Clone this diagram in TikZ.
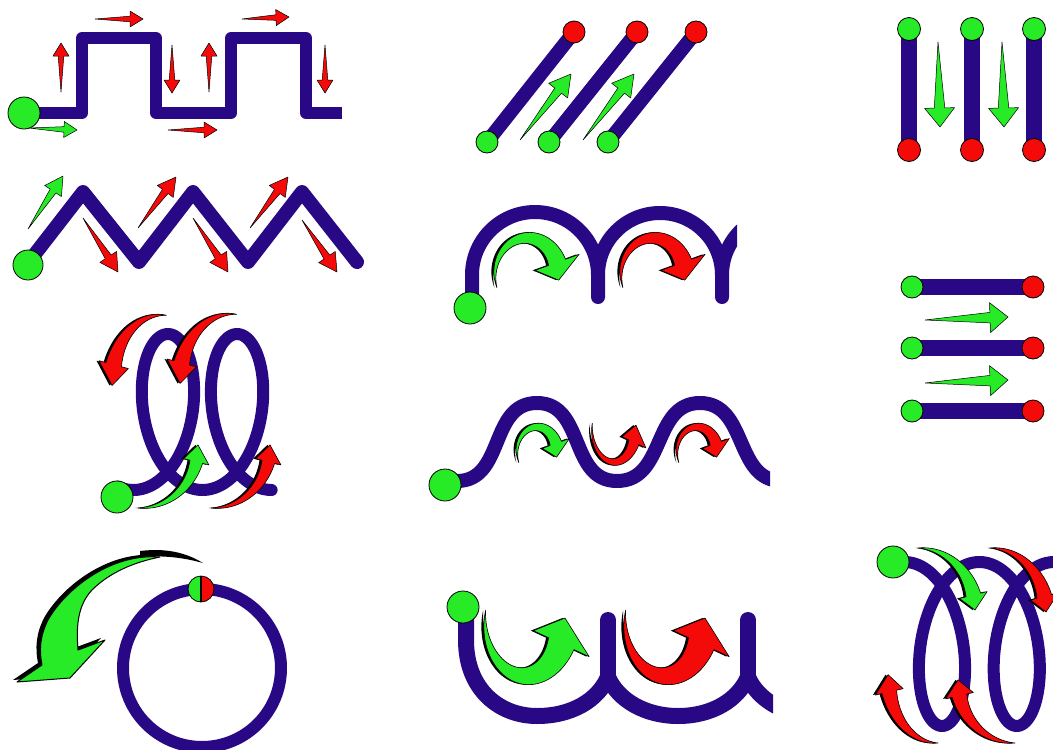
\documentclass[tikz,border=0pt]{standalone}
\usetikzlibrary{calc}
\definecolor{pathblue}{RGB}{40,8,132}
\definecolor{mygreen}{RGB}{40,235,40}
\definecolor{myred}{RGB}{245,10,10}
\def\hr{2.2}
% curved tapered arrow path: cx cy rx ry a1 a2 a3 w
\newcommand\cpath[8]{plot[domain=#5:#6,samples=40,variable=\x] ({#1+(#3+#8*(\x-#5)/(#6-#5))*cos(\x)},{#2-(#4+#8*(\x-#5)/(#6-#5))*sin(\x)}) -- ({#1+(#3+\hr*#8)*cos(#6)},{#2-(#4+\hr*#8)*sin(#6)}) -- ({#1+#3*cos(#7)},{#2-#4*sin(#7)}) -- ({#1+(#3-\hr*#8)*cos(#6)},{#2-(#4-\hr*#8)*sin(#6)}) -- plot[domain=#6:#5,samples=40,variable=\x] ({#1+(#3-#8*(\x-#5)/(#6-#5))*cos(\x)},{#2-(#4-#8*(\x-#5)/(#6-#5))*sin(\x)}) -- cycle}
\newcommand\carrow[9]{\fill[black,xshift=-2.5pt] \cpath{#2}{#3}{#4}{#5}{#6}{#7}{#8}{#9};\filldraw[fill=#1,draw=black,line width=0.6pt,line join=round] \cpath{#2}{#3}{#4}{#5}{#6}{#7}{#8}{#9};}
% straight tapered arrow: colour, tail, tip, head length, head half width
\newcommand\dart[5]{\filldraw[fill=#1,draw=black,line width=0.5pt,line join=round] (#2) -- ($(#3)!#4!(#2)!0.35*#5!90:(#2)$) -- ($(#3)!#4!(#2)!#5!90:(#2)$) -- (#3) -- ($(#3)!#4!(#2)!#5!-90:(#2)$) -- ($(#3)!#4!(#2)!0.35*#5!-90:(#2)$) -- cycle;}
\begin{document}
\begin{tikzpicture}[x=1pt,y=-1pt,
  track/.style={draw=pathblue,line cap=round,line join=round},
  gdot/.style={fill=mygreen,draw=black,line width=0.8pt},
  rdot/.style={fill=myred,draw=black,line width=0.8pt}]
\useasboundingbox (0,0) rectangle (1053,750);
\fill[white] (0,0) rectangle (1053,750);
\begin{scope}
\clip (0,0) rectangle (1053,750);
% ---------- panel 1: square wave
\draw[track,line width=12pt,line cap=butt] (24,113) -- (82,113) -- (82,38) -- (156,38) -- (156,113) -- (231,113) -- (231,38) -- (306,38) -- (306,113) -- (342,113);
\filldraw[gdot] (24,113) circle[radius=16pt];
\dart{myred}{95,19}{143,19}{13pt}{8pt}
\dart{myred}{242,19}{289,17}{13pt}{8pt}
\dart{myred}{168,130}{217,130}{13pt}{8pt}
\dart{mygreen}{29,128}{77,130}{13pt}{8pt}
\dart{myred}{61,92}{61,43}{13pt}{8pt}
\dart{myred}{209,92}{209,43}{13pt}{8pt}
\dart{myred}{172,45}{172,93}{13pt}{8pt}
\dart{myred}{325,45}{325,93}{13pt}{8pt}
% ---------- panel 2: zigzag
\draw[track,line width=14pt] (28,263) -- (83,192) -- (139,262) -- (193,192) -- (248,262) -- (302,192) -- (357,262);
\filldraw[gdot] (28,265) circle[radius=15pt];
\dart{mygreen}{28,229}{63,176}{18pt}{10pt}
\dart{myred}{138,228}{176,177}{18pt}{10pt}
\dart{myred}{250,228}{288,177}{18pt}{10pt}
\dart{myred}{83,218}{118,272}{18pt}{10pt}
\dart{myred}{193,218}{228,272}{18pt}{10pt}
\dart{myred}{302,220}{337,272}{18pt}{10pt}
% ---------- panel 3: diagonal bars
\foreach \a/\b in {487/574,549/637,608/696}{
  \draw[track,line width=14pt] (\a,142) -- (\b,32);
  \filldraw[gdot] (\a,142) circle[radius=11pt];
  \filldraw[rdot] (\b,32) circle[radius=11pt];}
\dart{mygreen}{520,140}{571,74}{21pt}{12pt}
\dart{mygreen}{583,140}{634,74}{21pt}{12pt}
% ---------- panel 4: vertical bars
\foreach \a in {909,972,1034}{
  \draw[track,line width=16pt] (\a,29) -- (\a,150);
  \filldraw[gdot] (\a,29) circle[radius=11.5pt];
  \filldraw[rdot] (\a,150) circle[radius=11.5pt];}
\dart{mygreen}{938,42}{940,127}{19pt}{15pt}
\dart{mygreen}{1002,42}{1004,127}{19pt}{15pt}
% ---------- panel 5: horizontal bars
\foreach \b in {287,348,411}{
  \draw[track,line width=16pt] (912,\b) -- (1033,\b);
  \filldraw[gdot] (912,\b) circle[radius=11pt];
  \filldraw[rdot] (1033,\b) circle[radius=11pt];}
\dart{mygreen}{925,320}{1008,317}{18pt}{15pt}
\dart{mygreen}{925,383}{1008,380}{18pt}{15pt}
% ---------- panel 6: arches
\begin{scope}
\clip (420,150) rectangle (737,330);
\draw[track,line width=14pt] (472,300) -- (472,275) arc[start angle=180,end angle=0,radius=63pt] -- (598,297) -- (598,275) arc[start angle=180,end angle=0,radius=62pt] -- (722,297) -- (722,275) arc[start angle=180,end angle=125,radius=62pt];
\end{scope}
\filldraw[gdot] (470,308) circle[radius=16pt];
% ---------- panel 7: upward loops
\draw[track,line width=12pt] plot[domain=-17:720,samples=220,variable=\x] ({133.4+0.191986*\x+42*sin(\x)},{412+78*cos(\x)});
\filldraw[gdot] (117,497) circle[radius=16pt];
% ---------- panel 8: wave
\begin{scope}
\clip (420,380) rectangle (770,520);
\draw[track,line width=14pt] (457,481) .. controls (505,481) and (489,403) .. (537,403) .. controls (585,403) and (569,481) .. (617,481) .. controls (666,481) and (652,403) .. (700,403) .. controls (748,403) and (734,481) .. (782,481);
\end{scope}
\filldraw[gdot] (445,485) circle[radius=16pt];
% ---------- panel 9: circle
\draw[track,line width=12pt] (202,668) circle[radius=79pt];
\fill[mygreen] (201,576) arc[start angle=90,end angle=270,radius=13pt] -- cycle;
\fill[myred] (201,576) arc[start angle=90,end angle=-90,radius=13pt] -- cycle;
\draw[black,line width=0.8pt] (201,589) circle[radius=13pt];
\draw[black,line width=1.2pt] (201,576) -- (201,602);
% ---------- panel 10: scallops
\begin{scope}
\clip (420,580) rectangle (773,750);
\draw[track,line width=16pt] (466,607) -- (466,640) .. controls (466,690) and (500,716) .. (537,716) .. controls (572,716) and (598,700) .. (608,677);
\draw[track,line width=16pt] (608,677) -- (608,620);
\draw[track,line width=16pt] (608,677) .. controls (618,700) and (645,716) .. (678,716) .. controls (712,716) and (738,700) .. (748,677);
\draw[track,line width=16pt] (748,677) -- (748,620);
\draw[track,line width=16pt] (748,677) .. controls (758,700) and (785,716) .. (818,716);
\end{scope}
\filldraw[gdot] (463,607) circle[radius=16pt];
% ---------- panel 11: downward loops
\draw[track,line width=12pt] plot[domain=-15:725,samples=220,variable=\x] ({904.6+0.207694*\x+40*sin(\x)},{644-82*cos(\x)});
\filldraw[gdot] (893,562) circle[radius=16pt];
% ---------- curved arrows
\def\hr{2.6}
\carrow{mygreen}{527}{275}{32}{37}{200}{20}{-8}{9}
\carrow{myred}{653}{275}{32}{37}{200}{20}{-8}{9}
\def\hr{1.9}
\carrow{myred}{162}{382}{50}{67}{85}{165}{183}{8}
\carrow{myred}{232}{380}{52}{66}{85}{165}{183}{8}
\def\hr{2}
\carrow{mygreen}{140}{447}{58}{61}{268}{346}{362}{6.5}
\carrow{myred}{213}{447}{57}{61}{268}{346}{362}{6.5}
\def\hr{2.4}
\carrow{mygreen}{537}{452}{20}{25}{205}{20}{-12}{6}
\carrow{myred}{697}{452}{20}{25}{205}{20}{-12}{6}
\carrow{myred}{614}{428}{22}{34}{172}{335}{5}{5.5}
\def\hr{2.2}
\carrow{mygreen}{525}{620}{40}{56}{170}{335}{2}{14}
\carrow{myred}{665}{620}{40}{56}{170}{335}{2}{14}
\def\hr{1.9}
\carrow{mygreen}{918}{610}{57}{62}{90}{14}{0}{7.5}
\carrow{myred}{990}{612}{56}{64}{90}{14}{0}{7.5}
\carrow{myred}{938}{677}{50}{66}{270}{193}{178}{7.5}
\carrow{myred}{1015}{682}{57}{61}{270}{193}{178}{7.5}
% big arrow of panel 9
\fill[black] (203,563) .. controls (185,552) and (165,548) .. (140,551) -- (140,557) .. controls (165,555) and (185,558) .. (203,563) -- cycle;
\fill[black,xshift=-4pt,yshift=2pt] (160,557) .. controls (110,553) and (65,590) .. (48,620) .. controls (40,636) and (39,650) .. (42,665) -- (17,682) -- (70,678) -- (105,640) -- (78,650) .. controls (76,625) and (78,605) .. (92,590) .. controls (110,572) and (135,562) .. (160,557) -- cycle;
\filldraw[fill=mygreen,draw=black,line width=1pt,line join=round] (160,557) .. controls (110,553) and (65,590) .. (48,620) .. controls (40,636) and (39,650) .. (42,665) -- (17,682) -- (70,678) -- (105,640) -- (78,650) .. controls (76,625) and (78,605) .. (92,590) .. controls (110,572) and (135,562) .. (160,557) -- cycle;
\end{scope}
\end{tikzpicture}
\end{document}
